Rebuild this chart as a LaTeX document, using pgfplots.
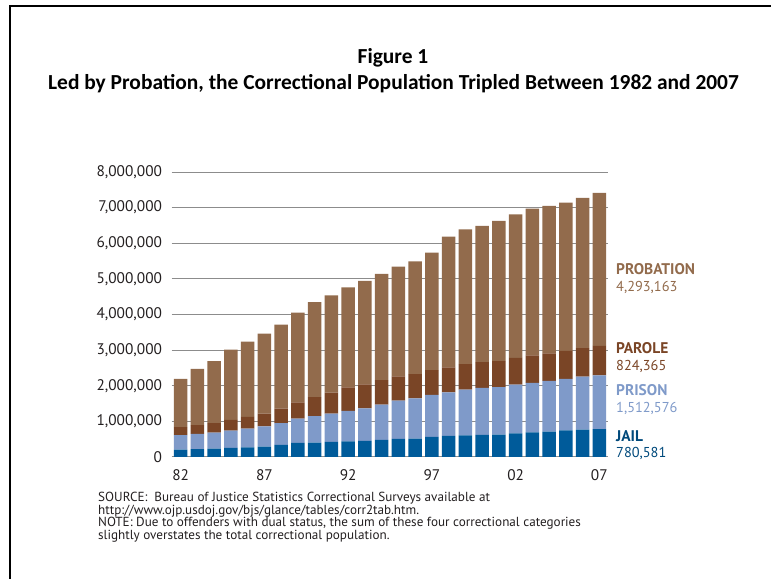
\documentclass[border=0pt]{standalone}
\usepackage{pgfplots}
\pgfplotsset{compat=1.18}
\usepackage{pgfplotstable}
\usepackage{fontspec}
\setmainfont{PT Sans}
\newfontfamily\titlefont{Carlito}

\definecolor{jailc}{HTML}{005B9A}
\definecolor{prisonc}{HTML}{7F9AC9}
\definecolor{parolec}{HTML}{7A4526}
\definecolor{probc}{HTML}{926B4C}
\definecolor{gridc}{HTML}{8C8C8C}
\definecolor{inkc}{HTML}{231F20}

% correctional population by year (BJS)
\pgfplotstableread{
year jail prison parole probation
1982 207853 402914 224604 1357264
1983 221815 423898 246440 1582947
1984 233018 448264 266992 1740948
1985 254986 487593 300203 1968712
1986 272735 526436 325638 2114621
1987 294092 562814 362192 2247158
1988 341893 607766 407977 2356483
1989 393303 683367 456803 2522125
1990 403019 743382 531407 2670234
1991 424129 792535 590442 2728472
1992 441781 850566 658601 2811611
1993 455500 909381 676100 2903061
1994 479800 990147 690371 2981022
1995 507044 1078542 679421 3077861
1996 518492 1127528 679733 3164996
1997 567079 1176922 694787 3296513
1998 592462 1224469 696385 3670441
1999 605943 1287172 714457 3779922
2000 621149 1316333 723898 3826209
2001 631240 1330007 732333 3931731
2002 665475 1367547 750934 4024067
2003 691301 1390279 769925 4120012
2004 713990 1421345 771852 4143792
2005 747529 1448344 780616 4166757
2006 765819 1492973 799875 4215361
2007 780581 1512576 824365 4293163
}\corrdata

\begin{document}
\begin{tikzpicture}
\useasboundingbox (0,0) rectangle (771bp,579bp);
% frame
\draw[line width=2.5bp] (10bp,0bp) -- (10bp,573bp) -- (771bp,573bp);

% title
\node[font=\titlefont\bfseries\fontsize{21.5}{24}\selectfont, inner sep=0pt] at (393bp,521bp) {Figure 1};
\node[font=\titlefont\bfseries\fontsize{21.5}{24}\selectfont, inner sep=0pt] at (393.5bp,495bp) {Led by Probation, the Correctional Population Tripled Between 1982 and 2007};

\begin{axis}[
    at={(171.7bp,122bp)}, anchor=south west,
    scale only axis,
    width=436bp, height=285bp,
    ybar stacked,
    bar width=13.5bp,
    xmin=1981.46, xmax=2007.5,
    ymin=0, ymax=8000000,
    ytick={0,1000000,...,8000000},
    xtick={1982,1987,1992,1997,2002,2007},
    xticklabels={82,87,92,97,02,07},
    scaled y ticks=false,
    yticklabel style={/pgf/number format/fixed, /pgf/number format/1000 sep={,}, /pgf/number format/assume math mode=true, inner sep=0pt, xshift=-9.5bp},
    xticklabel style={inner sep=0pt, yshift=-12bp},
    tick label style={font=\fontsize{15.4}{17}\selectfont, text=inkc},
    major tick length=0pt,
    axis line style={draw=none},
    ymajorgrids=true,
    grid style={gridc, line width=1bp},
    clip=false,
]
\addplot[draw=none, fill=jailc] table[x=year, y=jail] {\corrdata};
\addplot[draw=none, fill=prisonc] table[x=year, y=prison] {\corrdata};
\addplot[draw=none, fill=parolec] table[x=year, y=parole] {\corrdata};
\addplot[draw=none, fill=probc] table[x=year, y=probation] {\corrdata};
\end{axis}

% series labels at right
\begin{scope}[every node/.style={anchor=base west, inner sep=0pt, font=\fontsize{14.4}{16}\selectfont}]
\node[text=probc, font=\bfseries\fontsize{15.5}{17}\selectfont] at (616bp,304bp) {PROBATION};
\node[text=probc] at (616bp,287bp) {4,293,163};
\node[text=parolec, font=\bfseries\fontsize{15.5}{17}\selectfont] at (616bp,225bp) {PAROLE};
\node[text=parolec] at (616bp,208bp) {824,365};
\node[text=prisonc, font=\bfseries\fontsize{15.5}{17}\selectfont] at (616bp,183bp) {PRISON};
\node[text=prisonc] at (616bp,166bp) {1,512,576};
\node[text=jailc!80!black, font=\bfseries\fontsize{15.5}{17}\selectfont] at (616bp,137bp) {JAIL};
\node[text=jailc!80!black] at (616bp,121bp) {780,581};
\end{scope}

% source and note
\begin{scope}[every node/.style={anchor=base west, inner sep=0pt, text=inkc, font=\fontsize{13.2}{15}\selectfont}]
\node at (98bp,77bp) {SOURCE:\ \ Bureau of Justice Statistics Correctional Surveys available at};
\node at (98bp,64.5bp) {http://www.ojp.usdoj.gov/bjs/glance/tables/corr2tab.htm.};
\node at (98bp,52bp) {NOTE: Due to offenders with dual status, the sum of these four correctional categories};
\node at (98bp,39.5bp) {slightly overstates the total correctional population.};
\end{scope}
\end{tikzpicture}
\end{document}
